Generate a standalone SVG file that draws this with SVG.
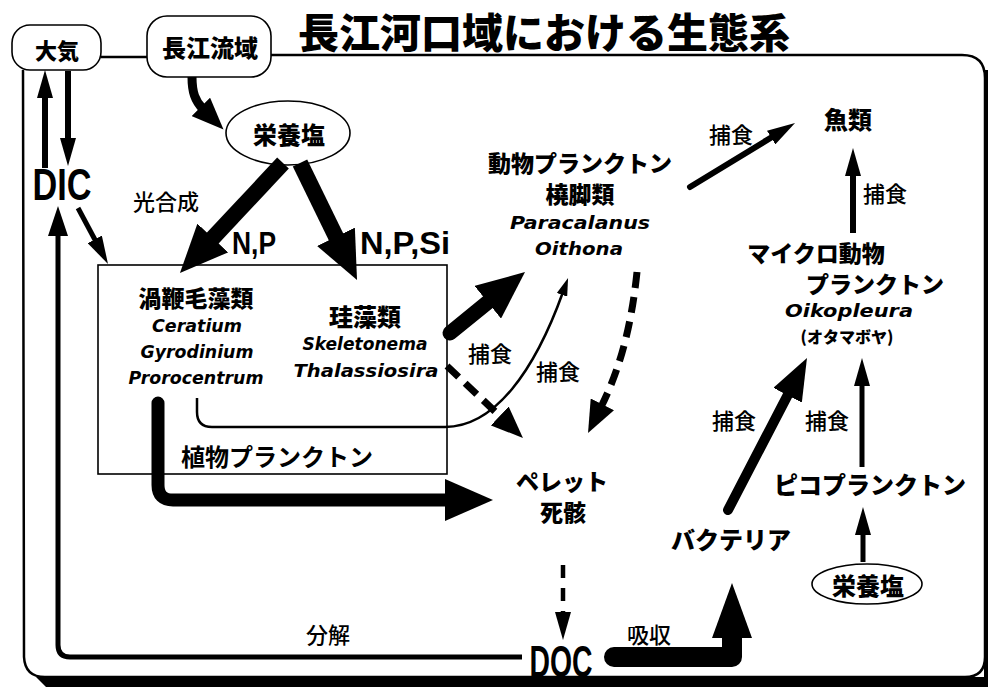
<svg xmlns="http://www.w3.org/2000/svg" width="988" height="687" viewBox="0 0 988 687">
<style>
.jb{font-family:"Noto Sans CJK JP","Noto Sans CJK SC",sans-serif;font-weight:900;text-anchor:middle;dominant-baseline:central;fill:#000}
.jr{font-family:"Noto Sans CJK JP","Noto Sans CJK SC",sans-serif;font-weight:500;font-size:22px;text-anchor:middle;dominant-baseline:central;fill:#000}
.li{font-family:"DejaVu Sans","Liberation Sans",sans-serif;font-weight:bold;font-style:italic;font-size:17px;text-anchor:middle;dominant-baseline:central;fill:#000}
.lb{font-family:"Liberation Sans",Arial,sans-serif;font-weight:bold;text-anchor:middle;fill:#000}
.box{fill:#fff;stroke:#000;stroke-width:1.6}
.ln{fill:none;stroke:#000}
.hd{fill:#000}
</style>
<defs>
<marker id="m-s" markerUnits="userSpaceOnUse" viewBox="0 0 18 11" markerWidth="18" markerHeight="11" refX="3" refY="5.5" orient="auto"><path class="hd" d="M0,0 L18,5.5 L0,11 z"/></marker>
<marker id="m-m" markerUnits="userSpaceOnUse" viewBox="0 0 28 16" markerWidth="28" markerHeight="16" refX="3" refY="8" orient="auto"><path class="hd" d="M0,0 L28,8 L0,16 z"/></marker>
<marker id="m-r" markerUnits="userSpaceOnUse" viewBox="0 0 30 20" markerWidth="30" markerHeight="20" refX="3" refY="10" orient="auto"><path class="hd" d="M0,0 L30,10 L0,20 z"/></marker>
<marker id="m-c" markerUnits="userSpaceOnUse" viewBox="0 0 32 26" markerWidth="32" markerHeight="26" refX="3" refY="13" orient="auto"><path class="hd" d="M0,0 L32,13 L0,26 z"/></marker>
<marker id="m-l" markerUnits="userSpaceOnUse" viewBox="0 0 42 32" markerWidth="42" markerHeight="32" refX="3" refY="16" orient="auto"><path class="hd" d="M0,0 L42,16 L0,32 z"/></marker>
<marker id="m-x" markerUnits="userSpaceOnUse" viewBox="0 0 48 42" markerWidth="48" markerHeight="42" refX="3" refY="21" orient="auto"><path class="hd" d="M0,0 L48,21 L0,42 z"/></marker>
<marker id="m-doc" markerUnits="userSpaceOnUse" viewBox="0 0 55 40" markerWidth="55" markerHeight="40" refX="3" refY="20" orient="auto"><path class="hd" d="M0,0 L55,20 L0,40 z"/></marker>
</defs>
<rect width="988" height="687" fill="#fff"/>

<g id="frame">
<path class="ln" stroke-width="2.5" d="M101,57 L147,57 M271,55 L962,55 Q985,55 985,78 L985,657 Q985,677 965,677 L45,677 Q25,677 24,657 L23,70"/>
<path d="M36,677 L988,677 L988,687 L46,687 Z" fill="#000"/>
<rect x="984" y="70" width="4" height="617" fill="#000"/>
</g>

<g id="title">
<text class="jb" x="298" y="30" style="text-anchor:start;font-size:41px" textLength="492" lengthAdjust="spacingAndGlyphs">長江河口域における生態系</text>
</g>

<g id="n-taiki">
<rect class="box" x="12" y="25" width="89" height="45" rx="18"/>
<text class="jb" x="57" y="49" style="font-size:22px">大気</text>
</g>

<g id="n-choukou">
<rect class="box" x="147" y="16" width="124" height="61" rx="20"/>
<text class="jb" x="210" y="46" style="font-size:24px">長江流域</text>
</g>

<g id="n-dic">
<text class="lb" x="62" y="200" style="font-size:44px" textLength="59" lengthAdjust="spacingAndGlyphs">DIC</text>
</g>

<g id="n-eiyou1">
<ellipse class="box" cx="288" cy="133" rx="62" ry="32"/>
<text class="jb" x="289" y="133" style="font-size:24px">栄養塩</text>
</g>

<g id="n-phyto">
<rect class="box" x="98" y="265" width="349" height="209"/>
<text class="jb" x="277" y="455" style="font-size:24px;font-weight:700">植物プランクトン</text>
</g>

<g id="n-dino">
<text class="jb" x="196" y="297" style="font-size:23px">渦鞭毛藻類</text>
<text class="li" x="197" y="326" textLength="90" lengthAdjust="spacingAndGlyphs">Ceratium</text>
<text class="li" x="197" y="352" textLength="113" lengthAdjust="spacingAndGlyphs">Gyrodinium</text>
<text class="li" x="196" y="378" textLength="135" lengthAdjust="spacingAndGlyphs">Prorocentrum</text>
</g>

<g id="n-diatom">
<text class="jb" x="365" y="315" style="font-size:24px">珪藻類</text>
<text class="li" x="365" y="344" textLength="125" lengthAdjust="spacingAndGlyphs">Skeletonema</text>
<text class="li" x="366" y="371" textLength="145" lengthAdjust="spacingAndGlyphs">Thalassiosira</text>
</g>

<g id="n-zoo">
<text class="jb" x="580" y="162" style="font-size:23px">動物プランクトン</text>
<text class="jb" x="580" y="193" style="font-size:23px">橈脚類</text>
<text class="li" x="580" y="223" textLength="140" lengthAdjust="spacingAndGlyphs">Paracalanus</text>
<text class="li" x="579" y="249" textLength="88" lengthAdjust="spacingAndGlyphs">Oithona</text>
</g>

<g id="n-fish">
<text class="jb" x="848" y="118" style="font-size:24px">魚類</text>
</g>

<g id="n-micro">
<text class="jb" x="816" y="252" style="font-size:23px">マイクロ動物</text>
<text class="jb" x="875" y="283" style="font-size:23px">プランクトン</text>
<text class="li" x="849" y="311" textLength="128" lengthAdjust="spacingAndGlyphs">Oikopleura</text>
<text class="jb" x="847" y="336" style="font-size:16px">(オタマボヤ)</text>
</g>

<g id="n-pico">
<text class="jb" x="870" y="483" style="font-size:24px">ピコプランクトン</text>
</g>

<g id="n-eiyou2">
<ellipse class="box" cx="867" cy="584" rx="55" ry="20"/>
<text class="jb" x="868" y="584" style="font-size:24px">栄養塩</text>
</g>

<g id="n-pellet">
<text class="jb" x="562" y="480" style="font-size:23px">ペレット</text>
<text class="jb" x="563" y="511" style="font-size:23px">死骸</text>
</g>

<g id="n-bacteria">
<text class="jb" x="731" y="538" style="font-size:24px">バクテリア</text>
</g>

<g id="n-doc">
<text class="lb" x="561" y="677" style="font-size:44px" textLength="63" lengthAdjust="spacingAndGlyphs">DOC</text>
</g>

<g id="connectors">
<path class="ln" stroke-width="6" d="M45,168 L45,95" marker-end="url(#m-m)"/>
<path class="ln" stroke-width="6" d="M68,71 L68,141" marker-end="url(#m-m)"/>
<path class="ln" stroke-width="5" d="M78,208 L96.2,242" marker-end="url(#m-m)"/>
<path class="ln" stroke-width="9" d="M192,77 C192,92 195,101 203,109" marker-end="url(#m-c)"/>
<path class="ln" stroke-width="16" d="M283,163 L210.7,240.2" marker-end="url(#m-x)"/>
<path class="ln" stroke-width="16" d="M300,163 L337.3,239.5" marker-end="url(#m-x)"/>
<path class="ln" stroke-width="15" stroke-linecap="round" d="M450,333 L490.1,300.4" marker-end="url(#m-x)"/>
<path class="ln" stroke-width="2.5" d="M197,398 L197,412 Q197,427 212,427 L445,427 C495,427 535,370 563,292" marker-end="url(#m-s)"/>
<path class="ln" stroke-width="7" stroke-dasharray="16 9" d="M447,366 L501.9,418" marker-end="url(#m-c)"/>
<path class="ln" stroke-width="7" stroke-dasharray="16 9" d="M637,272 C632,320 622,365 601,407" marker-end="url(#m-c)"/>
<path class="ln" stroke-width="13" stroke-linecap="round" stroke-linejoin="round" d="M158,403 L158,485 Q158,500 173,500 L448,500" marker-end="url(#m-x)"/>
<path class="ln" stroke-width="4.5" stroke-dasharray="13 10" d="M563,565 L563,615" marker-end="url(#m-m)"/>
<path class="ln" stroke-width="5" d="M522,657 L70,657 Q58,657 58,645 L58,233" marker-end="url(#m-r)"/>
<path class="ln" stroke-width="20" stroke-linecap="round" stroke-linejoin="round" d="M614,657 L732,657 L732,635" marker-end="url(#m-doc)"/>
<path class="ln" stroke-width="10" stroke-linecap="round" d="M728,510 L789,392.6" marker-end="url(#m-l)"/>
<path class="ln" stroke-width="5" d="M862,467 L862,383" marker-end="url(#m-m)"/>
<path class="ln" stroke-width="5" d="M863,562 L863,532" marker-end="url(#m-m)"/>
<path class="ln" stroke-width="6" d="M853,233 L853,173" marker-end="url(#m-m)"/>
<path class="ln" stroke-width="6" stroke-linecap="round" d="M690,187 L773.7,136" marker-end="url(#m-m)"/>
<text class="jr" x="166" y="200">光合成</text>
<text class="lb" x="254" y="254" style="font-size:32px" textLength="44" lengthAdjust="spacingAndGlyphs">N,P</text>
<text class="lb" x="405" y="254" style="font-size:32px" textLength="90" lengthAdjust="spacingAndGlyphs">N,P,Si</text>
<text class="jr" x="490" y="352">捕食</text>
<text class="jr" x="558" y="370">捕食</text>
<text class="jr" x="731" y="133">捕食</text>
<text class="jr" x="885" y="192">捕食</text>
<text class="jr" x="734" y="419">捕食</text>
<text class="jr" x="827" y="419">捕食</text>
<text class="jr" x="328" y="633">分解</text>
<text class="jr" x="649" y="633">吸収</text>
</g>
</svg>
